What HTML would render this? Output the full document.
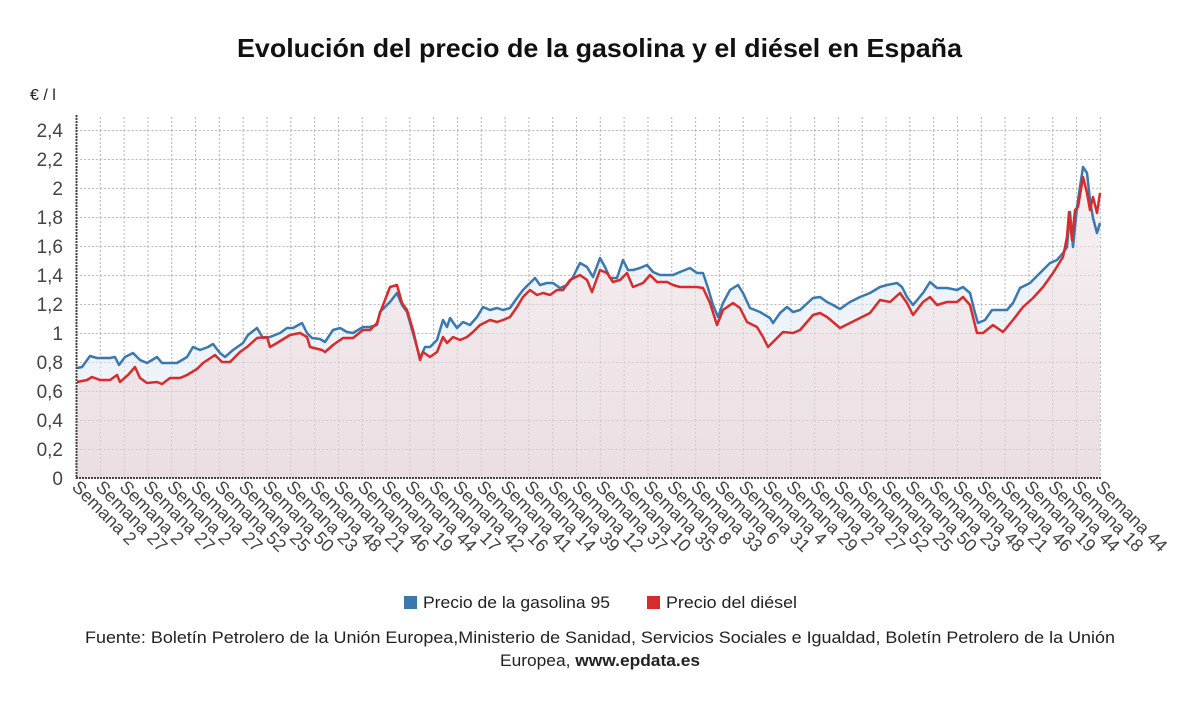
<!DOCTYPE html>
<html><head><meta charset="utf-8"><style>
body{margin:0;background:#fff;}
svg{display:block;font-family:"Liberation Sans","DejaVu Sans",sans-serif;}
</style></head><body>
<svg width="1200" height="705" viewBox="0 0 1200 705" xmlns="http://www.w3.org/2000/svg">
<defs>
<pattern id="g" x="76" y="130" width="23.81" height="29" patternUnits="userSpaceOnUse">
<path d="M0 0.5H23.81" stroke="#bbb" stroke-width="1" stroke-dasharray="2,2"/>
<path d="M0.5 0V29" stroke="#bbb" stroke-width="1" stroke-dasharray="2,2"/>
</pattern>
<linearGradient id="rf" x1="0" y1="0" x2="0" y2="1">
<stop offset="0" stop-color="#f7f0f2"/><stop offset="1" stop-color="#eaddE1"/>
</linearGradient>
</defs>
<text x="237" y="57" textLength="725" lengthAdjust="spacingAndGlyphs" font-size="26" font-weight="bold" fill="#111">Evolución del precio de la gasolina y el diésel en España</text>
<text x="30" y="100" font-size="16" fill="#222">€ / l</text>
<rect x="76" y="115" width="1025" height="363" fill="url(#g)"/>
<polygon fill="#edf3f9" points="77,368 82,367 90,356 97,358 110,358 115,357 119,365 125,357 133,353 140,360 147,363 157,357 162,363 170,363 177,363 187,357 193,347 200,350 208,347 213,344 220,353 225,357 233,350 243,343 248,335 257,328 263,338 270,337 280,333 287,328 293,328 302,323 307,333 312,338 320,339 325,342 333,330 340,328 347,332 353,333 363,327 370,327 377,325 380,312 390,302 397,293 402,305 407,312 413,333 420,358 425,347 430,347 437,340 443,320 447,327 450,318 457,328 463,322 470,325 477,317 483,307 490,310 497,308 503,310 510,308 517,298 523,290 530,283 535,278 540,285 547,283 553,283 560,288 567,285 573,277 580,263 587,267 593,277 600,258 605,267 610,278 617,278 623,260 628,270 633,270 640,268 647,265 653,272 660,275 667,275 673,275 680,272 690,268 697,273 703,273 708,288 713,305 718,317 723,303 730,290 738,285 743,293 750,308 760,312 770,318 773,323 780,313 787,307 793,312 800,310 813,298 820,297 827,302 833,305 840,309 850,302 860,297 870,293 880,287 887,285 897,283 902,287 907,297 913,305 923,293 930,282 937,288 947,288 957,290 963,287 970,293 975,313 978,323 985,320 992,310 1000,310 1007,310 1013,303 1020,288 1030,283 1040,273 1050,263 1057,260 1063,253 1067,247 1070,212 1073,247 1077,207 1080,187 1083,167 1087,173 1090,200 1093,218 1097,233 1100,223 1100,478 77,478"/>
<polygon fill="url(#rf)" points="77,382 87,380 92,377 100,380 110,380 117,375 120,382 128,375 135,367 140,378 147,383 157,382 162,384 170,378 180,378 187,375 197,369 203,363 215,355 222,362 230,362 240,352 247,347 257,338 267,337 270,347 277,343 290,335 300,333 307,337 310,347 322,350 325,352 333,345 343,338 353,338 363,330 370,330 377,323 380,313 390,287 397,285 402,303 407,310 413,330 420,360 423,352 430,357 437,352 443,337 447,343 453,337 460,340 467,337 473,332 480,325 490,320 497,322 503,320 510,317 517,307 523,297 530,290 537,295 543,293 550,295 557,290 563,290 570,280 580,275 587,280 592,292 600,270 607,273 613,282 620,280 627,273 633,287 643,283 650,275 657,282 667,282 673,285 680,287 690,287 697,287 703,288 710,303 717,325 723,310 733,303 740,308 747,322 757,327 763,337 768,347 777,338 783,332 793,333 800,330 807,322 813,315 820,313 827,317 833,322 840,328 850,323 860,318 870,313 880,300 890,302 900,293 907,303 913,315 923,302 930,297 937,305 947,302 957,302 963,297 970,305 977,333 983,333 993,325 1003,332 1013,320 1023,307 1033,298 1043,287 1053,273 1063,257 1067,237 1069,212 1072,240 1075,210 1078,207 1083,177 1087,193 1090,210 1093,197 1097,213 1100,193 1100,478 77,478" opacity="0.95"/>
<rect x="76" y="115" width="1025" height="363" fill="url(#g)" opacity="0.6"/>
<polyline fill="none" stroke="#3a78b0" stroke-width="2.5" stroke-linejoin="round" points="77,368 82,367 90,356 97,358 110,358 115,357 119,365 125,357 133,353 140,360 147,363 157,357 162,363 170,363 177,363 187,357 193,347 200,350 208,347 213,344 220,353 225,357 233,350 243,343 248,335 257,328 263,338 270,337 280,333 287,328 293,328 302,323 307,333 312,338 320,339 325,342 333,330 340,328 347,332 353,333 363,327 370,327 377,325 380,312 390,302 397,293 402,305 407,312 413,333 420,358 425,347 430,347 437,340 443,320 447,327 450,318 457,328 463,322 470,325 477,317 483,307 490,310 497,308 503,310 510,308 517,298 523,290 530,283 535,278 540,285 547,283 553,283 560,288 567,285 573,277 580,263 587,267 593,277 600,258 605,267 610,278 617,278 623,260 628,270 633,270 640,268 647,265 653,272 660,275 667,275 673,275 680,272 690,268 697,273 703,273 708,288 713,305 718,317 723,303 730,290 738,285 743,293 750,308 760,312 770,318 773,323 780,313 787,307 793,312 800,310 813,298 820,297 827,302 833,305 840,309 850,302 860,297 870,293 880,287 887,285 897,283 902,287 907,297 913,305 923,293 930,282 937,288 947,288 957,290 963,287 970,293 975,313 978,323 985,320 992,310 1000,310 1007,310 1013,303 1020,288 1030,283 1040,273 1050,263 1057,260 1063,253 1067,247 1070,212 1073,247 1077,207 1080,187 1083,167 1087,173 1090,200 1093,218 1097,233 1100,223"/>
<polyline fill="none" stroke="#d92b2b" stroke-width="2.5" stroke-linejoin="round" points="77,382 87,380 92,377 100,380 110,380 117,375 120,382 128,375 135,367 140,378 147,383 157,382 162,384 170,378 180,378 187,375 197,369 203,363 215,355 222,362 230,362 240,352 247,347 257,338 267,337 270,347 277,343 290,335 300,333 307,337 310,347 322,350 325,352 333,345 343,338 353,338 363,330 370,330 377,323 380,313 390,287 397,285 402,303 407,310 413,330 420,360 423,352 430,357 437,352 443,337 447,343 453,337 460,340 467,337 473,332 480,325 490,320 497,322 503,320 510,317 517,307 523,297 530,290 537,295 543,293 550,295 557,290 563,290 570,280 580,275 587,280 592,292 600,270 607,273 613,282 620,280 627,273 633,287 643,283 650,275 657,282 667,282 673,285 680,287 690,287 697,287 703,288 710,303 717,325 723,310 733,303 740,308 747,322 757,327 763,337 768,347 777,338 783,332 793,333 800,330 807,322 813,315 820,313 827,317 833,322 840,328 850,323 860,318 870,313 880,300 890,302 900,293 907,303 913,315 923,302 930,297 937,305 947,302 957,302 963,297 970,305 977,333 983,333 993,325 1003,332 1013,320 1023,307 1033,298 1043,287 1053,273 1063,257 1067,237 1069,212 1072,240 1075,210 1078,207 1083,177 1087,193 1090,210 1093,197 1097,213 1100,193"/>
<line x1="76.5" y1="115" x2="76.5" y2="479" stroke="#444" stroke-width="2" stroke-dasharray="2,1"/>
<line x1="76" y1="478" x2="1101" y2="478" stroke="#444" stroke-width="2" stroke-dasharray="2,1"/>
<g font-size="19" fill="#444" text-anchor="end">
<text x="63" y="485">0</text><text x="63" y="456">0,2</text><text x="63" y="427">0,4</text><text x="63" y="398">0,6</text><text x="63" y="369">0,8</text><text x="63" y="340">1</text><text x="63" y="311">1,2</text><text x="63" y="282">1,4</text><text x="63" y="253">1,6</text><text x="63" y="224">1,8</text><text x="63" y="195">2</text><text x="63" y="166">2,2</text><text x="63" y="137">2,4</text>
</g>
<g font-size="18" fill="#444">
<text transform="translate(71,488) rotate(45)">Semana 2</text>
<text transform="translate(94.8,488) rotate(45)">Semana 27</text>
<text transform="translate(118.6,488) rotate(45)">Semana 2</text>
<text transform="translate(142.4,488) rotate(45)">Semana 27</text>
<text transform="translate(166.2,488) rotate(45)">Semana 2</text>
<text transform="translate(190,488) rotate(45)">Semana 27</text>
<text transform="translate(213.9,488) rotate(45)">Semana 52</text>
<text transform="translate(237.7,488) rotate(45)">Semana 25</text>
<text transform="translate(261.5,488) rotate(45)">Semana 50</text>
<text transform="translate(285.3,488) rotate(45)">Semana 23</text>
<text transform="translate(309.1,488) rotate(45)">Semana 48</text>
<text transform="translate(332.9,488) rotate(45)">Semana 21</text>
<text transform="translate(356.7,488) rotate(45)">Semana 46</text>
<text transform="translate(380.5,488) rotate(45)">Semana 19</text>
<text transform="translate(404.3,488) rotate(45)">Semana 44</text>
<text transform="translate(428.1,488) rotate(45)">Semana 17</text>
<text transform="translate(452,488) rotate(45)">Semana 42</text>
<text transform="translate(475.8,488) rotate(45)">Semana 16</text>
<text transform="translate(499.6,488) rotate(45)">Semana 41</text>
<text transform="translate(523.4,488) rotate(45)">Semana 14</text>
<text transform="translate(547.2,488) rotate(45)">Semana 39</text>
<text transform="translate(571,488) rotate(45)">Semana 12</text>
<text transform="translate(594.8,488) rotate(45)">Semana 37</text>
<text transform="translate(618.6,488) rotate(45)">Semana 10</text>
<text transform="translate(642.4,488) rotate(45)">Semana 35</text>
<text transform="translate(666.2,488) rotate(45)">Semana 8</text>
<text transform="translate(690,488) rotate(45)">Semana 33</text>
<text transform="translate(713.9,488) rotate(45)">Semana 6</text>
<text transform="translate(737.7,488) rotate(45)">Semana 31</text>
<text transform="translate(761.5,488) rotate(45)">Semana 4</text>
<text transform="translate(785.3,488) rotate(45)">Semana 29</text>
<text transform="translate(809.1,488) rotate(45)">Semana 2</text>
<text transform="translate(832.9,488) rotate(45)">Semana 27</text>
<text transform="translate(856.7,488) rotate(45)">Semana 52</text>
<text transform="translate(880.5,488) rotate(45)">Semana 25</text>
<text transform="translate(904.3,488) rotate(45)">Semana 50</text>
<text transform="translate(928.1,488) rotate(45)">Semana 23</text>
<text transform="translate(952,488) rotate(45)">Semana 48</text>
<text transform="translate(975.8,488) rotate(45)">Semana 21</text>
<text transform="translate(999.6,488) rotate(45)">Semana 46</text>
<text transform="translate(1023.4,488) rotate(45)">Semana 19</text>
<text transform="translate(1047.2,488) rotate(45)">Semana 44</text>
<text transform="translate(1071,488) rotate(45)">Semana 18</text>
<text transform="translate(1094.8,488) rotate(45)">Semana 44</text>
</g>
<rect x="404" y="596" width="13" height="13" fill="#3a78b0"/>
<text x="423" y="608" font-size="17" fill="#222" textLength="187" lengthAdjust="spacingAndGlyphs">Precio de la gasolina 95</text>
<rect x="647" y="596" width="13" height="13" fill="#d92b2b"/>
<text x="666" y="608" font-size="17" fill="#222" textLength="131" lengthAdjust="spacingAndGlyphs">Precio del diésel</text>
<text x="85" y="643" font-size="17" fill="#222" textLength="1030" lengthAdjust="spacingAndGlyphs">Fuente: Boletín Petrolero de la Unión Europea,Ministerio de Sanidad, Servicios Sociales e Igualdad, Boletín Petrolero de la Unión</text>
<text x="500" y="666" font-size="17" fill="#222" textLength="200" lengthAdjust="spacingAndGlyphs">Europea, <tspan font-weight="bold">www.epdata.es</tspan></text>
</svg>
</body></html>
